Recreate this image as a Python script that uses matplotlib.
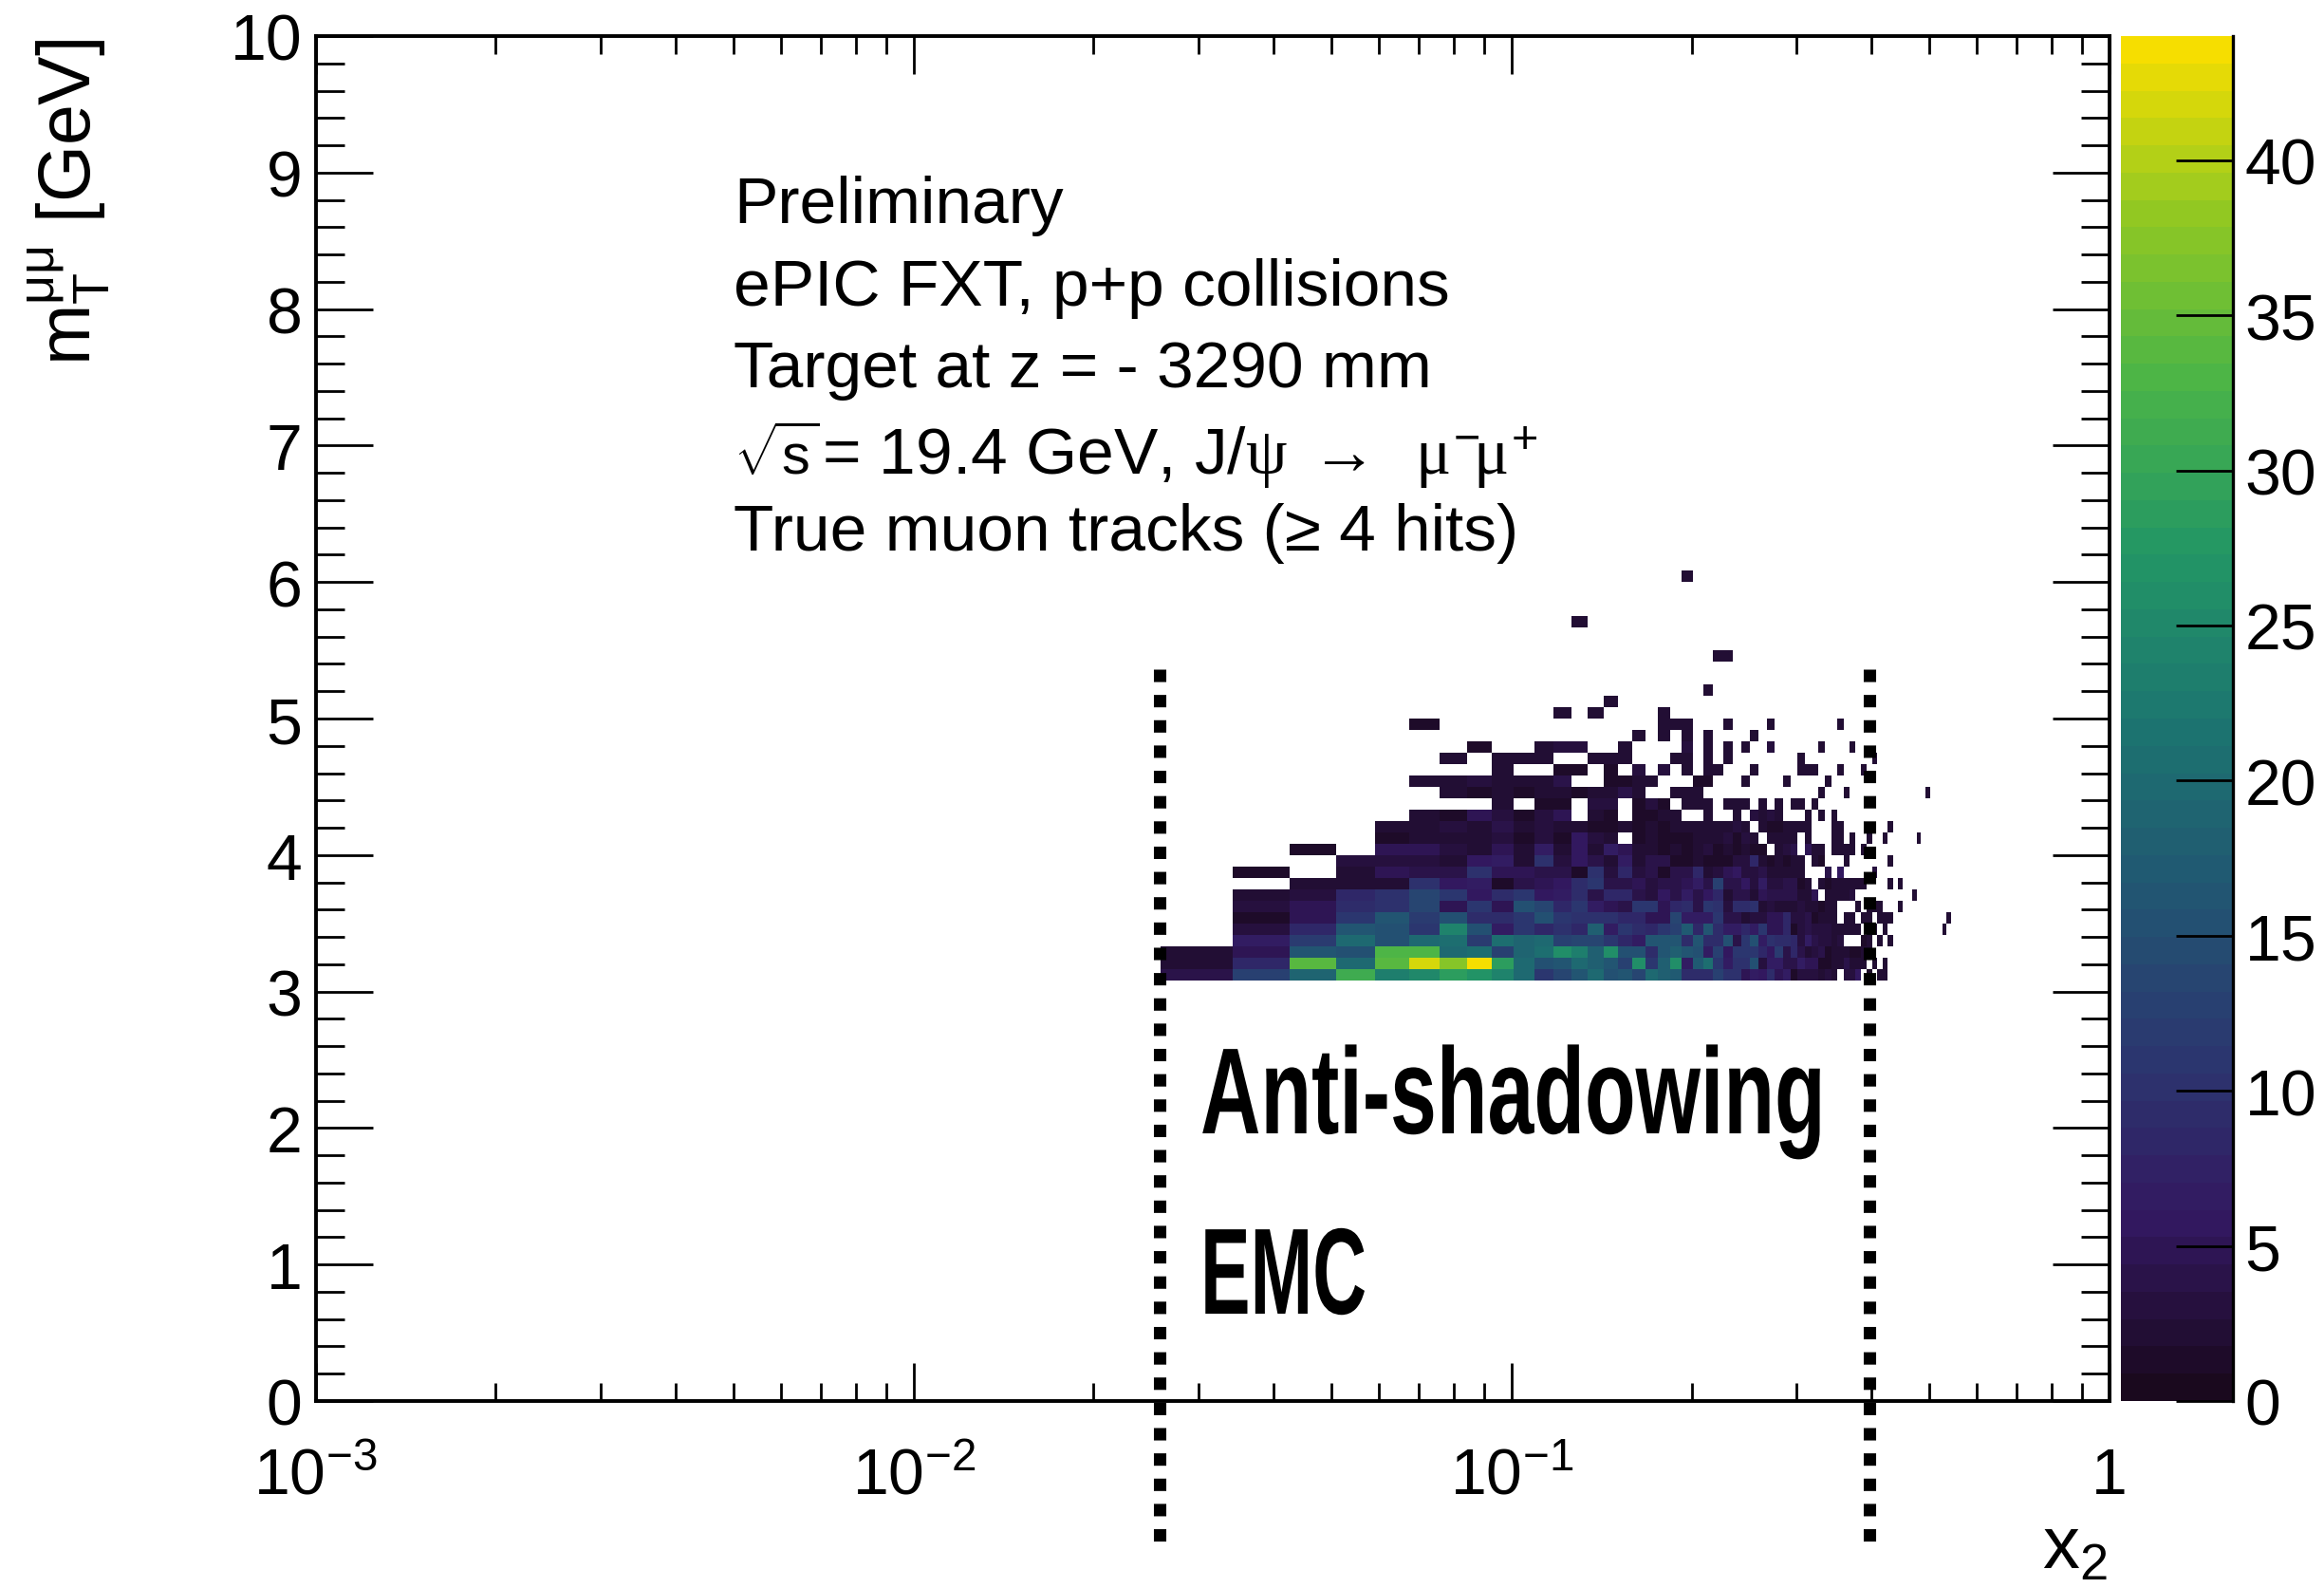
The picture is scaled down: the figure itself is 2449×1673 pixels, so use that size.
import numpy as np
import matplotlib
matplotlib.use("Agg")
from matplotlib import pyplot as plt
from matplotlib.colors import LinearSegmentedColormap, Normalize
from matplotlib.patheffects import AbstractPathEffect
from matplotlib.ticker import FixedLocator, MultipleLocator, NullFormatter
from matplotlib.transforms import Affine2D

plt.rcParams['font.family'] = ['Liberation Sans', 'DejaVu Sans']
plt.rcParams['mathtext.fontset'] = 'custom'
plt.rcParams['mathtext.rm'] = 'Liberation Sans'
plt.rcParams['mathtext.it'] = 'Liberation Serif'
plt.rcParams['mathtext.bf'] = 'Liberation Sans:bold'

# bins
x_first_edge = 0.0259
x_bin = 0.00833
y_first_edge = 37 * 10 / 120
y_bin = 10 / 120
n_cols = 63
n_rows = 36

# dense rows, bottom up, column 0 is the leftmost bin
row_00 = [4, 13, 19, 31, 23, 25, 29, 27, 24, 20, 11, 14, 16, 20, 15, 16, 14, 20, 18, 17,
          9, 9, 9, 13, 10, 10, 5, 7, 6, 9, 5, 7, 1, 3, 3, 3, 2, 3, 2, 0,
          3, 3, 6, 0, 1, 0, 2, 2]
row_01 = [2, 8, 34, 20, 34, 42, 37, 44, 29, 20, 15, 16, 20, 18, 16, 13, 26, 11, 18, 26,
          7, 17, 21, 11, 7, 10, 10, 15, 3, 7, 7, 4, 4, 7, 5, 5, 1, 1, 2, 2,
          4, 2, 2, 2, 0, 2, 0, 2]
row_02 = [2, 5, 16, 15, 33, 33, 20, 21, 13, 19, 21, 26, 23, 18, 26, 15, 15, 9, 16, 18,
          16, 15, 7, 13, 6, 11, 11, 11, 8, 6, 12, 4, 8, 4, 2, 3, 4, 1, 2, 2,
          2, 1, 1, 2, 2]
row_03 = [0, 7, 12, 20, 15, 20, 21, 12, 21, 19, 20, 13, 14, 14, 11, 8, 7, 16, 16, 16,
          9, 16, 9, 9, 15, 4, 11, 15, 7, 10, 9, 9, 8, 3, 7, 4, 3, 3, 2, 3,
          0, 0, 0, 1, 2, 0, 2, 0, 2]
row_04 = [0, 3, 8, 16, 15, 11, 24, 15, 7, 11, 8, 10, 8, 18, 7, 11, 9, 8, 11, 13,
          17, 8, 16, 9, 7, 7, 8, 7, 11, 5, 5, 8, 1, 3, 4, 3, 3, 3, 2, 2,
          2, 2, 2, 0, 2, 2, 0, 2, 0, 0, 0, 0, 0, 0, 0, 0, 0, 0, 0, 0, 2]
row_05 = [0, 1, 5, 11, 16, 12, 15, 9, 9, 11, 15, 11, 10, 10, 10, 8, 8, 5, 5, 14,
          7, 7, 7, 11, 4, 4, 2, 3, 3, 5, 5, 8, 3, 3, 4, 1, 2, 2, 2, 0,
          2, 2, 0, 2, 2, 0, 2, 2, 2, 0, 0, 0, 0, 0, 0, 0, 0, 0, 0, 0, 0, 2]
row_06 = [0, 3, 5, 9, 10, 14, 5, 11, 5, 15, 14, 8, 11, 7, 5, 4, 11, 11, 5, 8,
          9, 4, 11, 10, 3, 9, 9, 10, 2, 3, 2, 2, 2, 3, 2, 2, 1, 2, 2, 0,
          0, 0, 2, 0, 2, 2, 2, 0, 0, 0, 2]
row_07 = [0, 2, 3, 8, 10, 14, 11, 6, 9, 11, 6, 7, 9, 4, 8, 8, 4, 3, 6, 4,
          7, 4, 6, 8, 2, 4, 4, 2, 5, 4, 4, 4, 4, 2, 2, 5, 0, 2, 2, 2,
          2, 3, 0, 0, 0, 0, 0, 0, 0, 0, 0, 0, 0, 2]
row_08 = [0, 0, 2, 2, 2, 10, 6, 7, 1, 4, 5, 6, 9, 11, 4, 4, 5, 3, 4, 4,
          5, 7, 4, 13, 4, 4, 6, 3, 7, 3, 3, 4, 4, 1, 2, 0, 2, 1, 2, 2,
          2, 2, 2, 2, 0, 0, 0, 0, 2, 0, 2]
row_09 = [0, 1, 0, 2, 5, 4, 4, 10, 5, 5, 4, 4, 1, 10, 3, 8, 3, 4, 1, 4,
          4, 8, 2, 3, 5, 6, 3, 3, 4, 2, 2, 2, 2, 2, 0, 0, 0, 4, 0, 6,
          0, 0, 0, 0, 0, 3]
row_10 = [0, 0, 0, 3, 3, 3, 2, 6, 7, 2, 10, 3, 6, 4, 2, 7, 2, 4, 4, 1,
          1, 2, 1, 1, 1, 3, 3, 8, 2, 1, 2, 1, 2, 2, 0, 2, 1, 0, 0, 0,
          2, 0, 0, 0, 0, 0, 0, 0, 2]
row_11 = [0, 0, 1, 0, 5, 5, 3, 2, 5, 2, 7, 2, 6, 2, 7, 5, 2, 2, 1, 2,
          1, 2, 3, 1, 2, 1, 2, 1, 1, 0, 2, 3, 4, 0, 5, 2, 2, 0, 2, 2,
          2, 2, 0, 2]
row_12 = [0, 0, 0, 0, 1, 2, 2, 2, 3, 1, 3, 1, 6, 3, 2, 0, 1, 2, 1, 1,
          1, 2, 2, 2, 3, 1, 3, 2, 0, 2, 2, 2, 2, 0, 2, 0, 0, 0, 2, 2,
          0, 2, 0, 0, 2, 0, 0, 2, 0, 0, 0, 0, 0, 0, 2]
row_13 = [0, 0, 0, 0, 2, 2, 3, 2, 4, 2, 3, 2, 2, 1, 1, 2, 1, 2, 1, 2,
          2, 2, 2, 2, 2, 3, 2, 0, 2, 1, 1, 2, 2, 2, 2, 0, 0, 0, 2, 2,
          0, 0, 0, 0, 0, 0, 0, 0, 2]
row_14 = [0, 0, 0, 0, 0, 2, 1, 5, 3, 1, 3, 5, 0, 2, 1, 0, 1, 1, 2, 2,
          0, 0, 2, 0, 0, 2, 0, 3, 2, 3, 2, 0, 0, 0, 2, 0, 2, 0, 2]
row_15 = [0, 0, 0, 0, 0, 0, 0, 0, 2, 0, 1, 1, 0, 3, 3, 0, 1, 3, 1, 0,
          2, 2, 2, 0, 2, 2, 2, 0, 2, 0, 2, 0, 2, 2, 0, 2]
dense_rows = [row_00, row_01, row_02, row_03, row_04, row_05, row_06, row_07,
              row_08, row_09, row_10, row_11, row_12, row_13, row_14, row_15]

# sparse rows on top: row -> {column: count}
upper_rows = {
    16: {6: 2, 7: 1, 8: 2, 9: 1, 10: 2, 11: 2, 12: 1, 13: 2, 14: 2, 15: 4, 16: 2,
         19: 2, 20: 2, 21: 2, 36: 2, 40: 2, 56: 2},
    17: {5: 2, 6: 2, 7: 3, 8: 2, 9: 2, 10: 2, 11: 4, 14: 1, 15: 1, 16: 2, 17: 2,
         21: 1, 22: 1, 26: 2, 31: 2, 37: 2},
    18: {8: 2, 11: 1, 12: 1, 14: 1, 16: 3, 18: 3, 20: 2, 22: 2, 23: 2, 27: 2,
         33: 2, 34: 2, 35: 2, 39: 2, 43: 2},
    19: {6: 2, 8: 2, 9: 2, 10: 2, 13: 2, 14: 2, 15: 2, 19: 2, 20: 2, 22: 2, 24: 2,
         33: 2, 45: 2},
    20: {7: 1, 10: 2, 11: 3, 12: 3, 15: 2, 20: 3, 22: 2, 24: 2, 26: 2, 29: 3,
         36: 2, 41: 2},
    21: {16: 2, 18: 2, 20: 2, 22: 2, 27: 2},
    22: {5: 1, 18: 2, 19: 2, 20: 2, 24: 2, 29: 2, 39: 2},
    23: {11: 2, 13: 2, 18: 2},
    24: {14: 2},
    25: {22: 2},
    28: {23: 2, 24: 2},
    31: {12: 2},
    35: {20: 2},
}

# ROOT kViridis stops
palette_r = [26, 51, 43, 33, 28, 35, 74, 144, 246]
palette_g = [9, 24, 55, 87, 118, 150, 180, 200, 222]
palette_b = [30, 96, 112, 114, 112, 101, 72, 35, 0]
z_max = 44
n_contours = 50

x_major = [1e-3, 1e-2, 1e-1, 1]
x_major_labels = [r'$\mathrm{10^{-3}}$', r'$\mathrm{10^{-2}}$', r'$\mathrm{10^{-1}}$', '1']
region_x = [0.0258, 0.397]
region_y = [5.365, -1.05]

info_lines = [
    'Preliminary',
    'ePIC FXT, p+p collisions',
    'Target at z = - 3290 mm',
    r'= 19.4 GeV, J/$\psi\;{\rightarrow}\;\;{\mu}^{-}\!{\mu}^{+}$',
    'True muon tracks (≥ 4 hits)',
]
info_x = [773, 773, 773, 866, 773]
info_baselines = [235, 322, 408, 500, 580]
sqrt_label = r'$\sqrt{\mathrm{s}}$'

W, H = 2449, 1674

counts = np.zeros((n_rows, n_cols))
for i, row in enumerate(dense_rows):
    counts[i, :len(row)] = row
for i, cells in upper_rows.items():
    for j, c in cells.items():
        counts[i, j] = c
counts = np.ma.masked_equal(counts, 0)

x_edges = x_first_edge + x_bin * np.arange(n_cols + 1)
y_edges = y_first_edge + y_bin * np.arange(n_rows + 1)

colors = np.array([palette_r, palette_g, palette_b]).T / 255
cmap = LinearSegmentedColormap.from_list('root_viridis', colors, N=n_contours)
cmap.set_bad('white')


def fx(px):
    return px / W


def fy(py):
    return 1 - py / H


# no condensed bold font here, so squeeze the glyphs sideways around the text's left end
class Squeeze(AbstractPathEffect):
    def __init__(self, x0, factor):
        super().__init__()
        self.x0 = x0
        self.factor = factor

    def draw_path(self, renderer, gc, tpath, affine, rgbFace=None):
        squeeze = Affine2D().translate(-self.x0, 0).scale(self.factor, 1).translate(self.x0, 0)
        renderer.draw_path(gc, tpath, affine + squeeze, rgbFace)


figure = plt.figure(figsize=(W / 100, H / 100), dpi=100)
axes = figure.add_axes([fx(332.5), fy(1477), (2223 - 332.5) / W, (1477 - 39) / H])

mesh = axes.pcolormesh(x_edges, y_edges, counts, cmap=cmap,
                       norm=Normalize(0, z_max), linewidth=0, rasterized=True)

axes.set_xscale('log')
axes.set_xlim(1e-3, 1)
axes.set_ylim(0, 10)

axes.set_xticks(x_major)
axes.set_xticklabels(x_major_labels)
axes.xaxis.set_minor_locator(FixedLocator(
    [m * d for d in [1e-3, 1e-2, 1e-1] for m in range(2, 10)]))
axes.xaxis.set_minor_formatter(NullFormatter())
axes.yaxis.set_major_locator(MultipleLocator(1))
axes.yaxis.set_minor_locator(MultipleLocator(0.2))

axes.tick_params(axis='x', which='major', direction='in', top=True, length=29, width=2,
                 labelsize=49, pad=70)
axes.tick_params(axis='x', which='minor', direction='in', top=True, length=14, width=2)
axes.tick_params(axis='y', which='major', direction='in', right=True, length=43, width=2,
                 labelsize=49, pad=10)
axes.tick_params(axis='y', which='minor', direction='in', right=True, length=21.6, width=2)
for label in axes.get_xticklabels():
    label.set_va('baseline')
for spine in axes.spines.values():
    spine.set_linewidth(2.8)

for x in region_x:
    axes.plot([x, x], region_y, color='black', lw=9.4, clip_on=False, zorder=5,
              dashes=(1, 1.04), dash_capstyle='butt')

# colour bar
cax = figure.add_axes([fx(2235), fy(1477), (2353 - 2235) / W, (1477 - 39) / H])
cbar = figure.colorbar(mesh, cax=cax)
cbar.outline.set_visible(False)
cbar.set_ticks(np.arange(0, 41, 5))
cax.tick_params(axis='y', direction='in', length=43, width=2, labelsize=49, pad=9)
cax.minorticks_off()
cax.axvline(1, color='black', lw=2.4, clip_on=False)

for text, px, base in zip(info_lines, info_x, info_baselines):
    figure.text(fx(px), fy(base), text, fontsize=50, va='baseline', ha='left')
figure.text(fx(773), fy(500), sqrt_label, fontsize=43, va='baseline', ha='left')

shadow_text = figure.text(fx(1265), fy(1195), 'Anti-shadowing', fontsize=93, va='baseline',
                          ha='left', fontweight='bold')
shadow_text.set_path_effects([Squeeze(1265, 0.68)])
emc_text = figure.text(fx(1265), fy(1385), 'EMC', fontsize=93, va='baseline',
                       ha='left', fontweight='bold')
emc_text.set_path_effects([Squeeze(1265, 0.61)])

figure.text(fx(2221), fy(1653), r'$\mathrm{x_2}$', fontsize=56, va='baseline', ha='right')
figure.text(fx(118), fy(41), r'$\mathrm{m_T^{\mu\mu}}$ [GeV]', fontsize=55.5, rotation=90,
            va='top', ha='right', rotation_mode='default')

figure.savefig('out.png', dpi=100)
